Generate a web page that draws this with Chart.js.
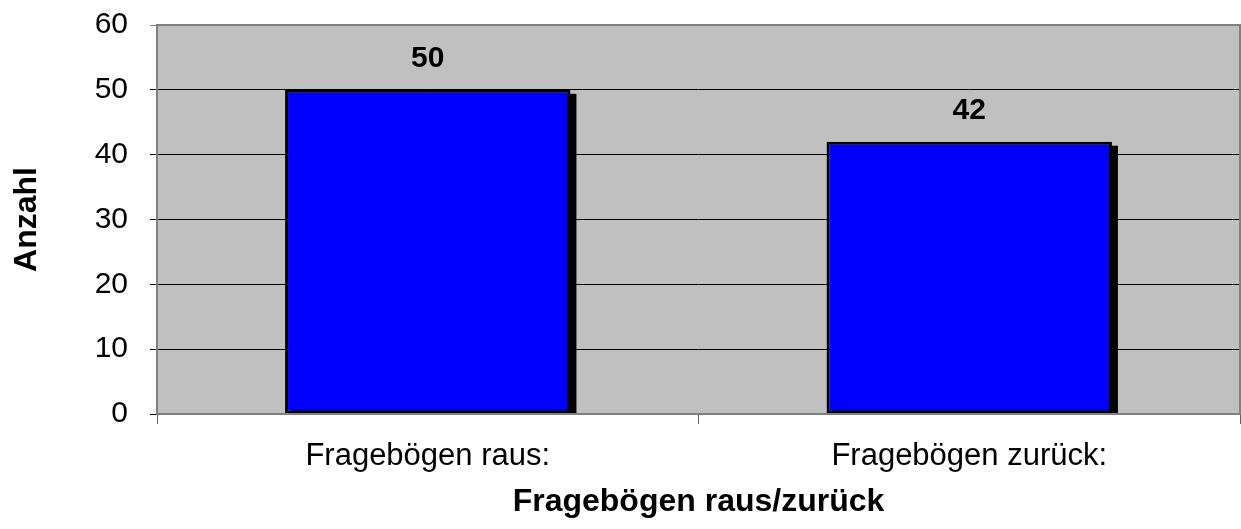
<!DOCTYPE html>
<html>
<head>
<meta charset="utf-8">
<script src="https://cdn.jsdelivr.net/npm/chart.js@4"></script>
<style>
  html, body { margin: 0; padding: 0; background: #fff; }
  #wrap { width: 1241px; height: 529px; }
</style>
</head>
<body>
<div id="wrap"><canvas id="chart" width="1241" height="529"></canvas></div>
<script>
const categories = ['Fragebögen raus:', 'Fragebögen zurück:'];
const values = [50, 42];
const yTicks = [0, 10, 20, 30, 40, 50, 60];

const fontFamily = '"Liberation Sans", Arial, sans-serif';

// gray plot area + border
const plotBg = {
  id: 'plotBg',
  beforeDraw(chart) {
    const { ctx, chartArea: a } = chart;
    ctx.save();
    ctx.fillStyle = '#C0C0C0';
    ctx.fillRect(a.left, a.top, a.right - a.left, a.bottom - a.top);
    ctx.restore();
  },
  afterDatasetsDraw(chart) {
    const { ctx, chartArea: a } = chart;
    ctx.save();
    ctx.strokeStyle = '#808080';
    ctx.lineWidth = 2;
    ctx.strokeRect(a.left, a.top, a.right - a.left, a.bottom - a.top);
    ctx.restore();
  }
};

// black drop shadow behind each bar
const barShadow = {
  id: 'barShadow',
  beforeDatasetsDraw(chart) {
    const { ctx, chartArea: a } = chart;
    const meta = chart.getDatasetMeta(0);
    ctx.save();
    ctx.beginPath();
    ctx.rect(a.left, a.top, a.right - a.left, a.bottom - a.top);
    ctx.clip();
    ctx.fillStyle = '#000';
    meta.data.forEach(bar => {
      const w = bar.width;
      ctx.fillRect(bar.x - w / 2 + 6, bar.y + 4, w, bar.base - bar.y);
    });
    ctx.restore();
  }
};

// bold value labels above bars
const valueLabels = {
  id: 'valueLabels',
  afterDatasetsDraw(chart) {
    const { ctx } = chart;
    const meta = chart.getDatasetMeta(0);
    ctx.save();
    ctx.font = 'bold 30px ' + fontFamily;
    ctx.fillStyle = '#000';
    ctx.textAlign = 'center';
    ctx.textBaseline = 'middle';
    meta.data.forEach((bar, i) => {
      ctx.fillText(values[i], bar.x, bar.y - 31);
    });
    ctx.restore();
  }
};

new Chart(document.getElementById('chart'), {
  type: 'bar',
  data: {
    labels: categories,
    datasets: [{
      data: values,
      backgroundColor: '#0000FF',
      borderColor: '#000000',
      borderWidth: 3,
      borderSkipped: false,
      barPercentage: 0.527,
      categoryPercentage: 1
    }]
  },
  options: {
    responsive: false,
    animation: false,
    layout: { padding: { top: 25, right: 1, left: 4, bottom: 4 } },
    plugins: {
      legend: { display: false },
      tooltip: { enabled: false }
    },
    scales: {
      x: {
        offset: true,
        grid: {
          offset: true,
          drawOnChartArea: false,
          drawTicks: true,
          tickLength: 10,
          color: '#606060'
        },
        border: { display: false },
        ticks: {
          color: '#000',
          padding: 14,
          font: { family: fontFamily, size: 31 }
        },
        title: {
          display: true,
          text: 'Fragebögen raus/zurück',
          color: '#000',
          font: { family: fontFamily, size: 32, weight: 'bold' }
        },
        afterFit(scale) { scale.height = 111; }
      },
      y: {
        min: 0,
        max: 60,
        afterBuildTicks(scale) { scale.ticks = yTicks.map(v => ({ value: v })); },
        grid: {
          color: ctx => (ctx.tick && ctx.tick.value === 60 ? '#808080' : '#000'),
          lineWidth: 1,
          tickLength: 7
        },
        border: { display: false },
        ticks: {
          color: '#000',
          padding: 22,
          font: { family: fontFamily, size: 30 }
        },
        title: {
          display: true,
          text: 'Anzahl',
          color: '#000',
          font: { family: fontFamily, size: 32, weight: 'bold' }
        },
        afterFit(scale) {
          scale.width = 153;
          scale.paddingTop = 0;
          scale.paddingBottom = 0;
        }
      }
    }
  },
  plugins: [plotBg, barShadow, valueLabels]
});
</script>
</body>
</html>
